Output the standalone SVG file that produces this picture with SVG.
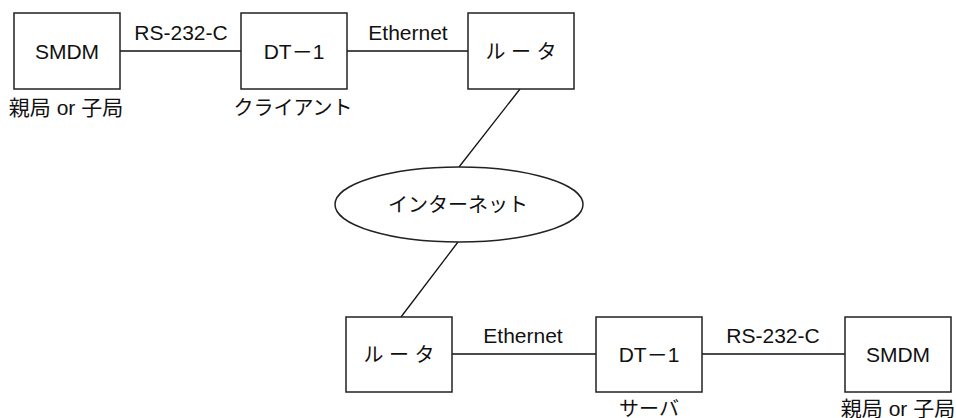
<svg xmlns="http://www.w3.org/2000/svg" width="956" height="418" viewBox="0 0 956 418">
<style>
.box{fill:#fff;stroke:#222;stroke-width:1.5}
.ln{stroke:#111;stroke-width:1.3;fill:none}
text{font-family:"Liberation Sans","Noto Sans CJK JP",sans-serif;font-size:21px;fill:#111;text-anchor:middle}
.jp{font-size:20px}
</style>
<rect width="956" height="418" fill="#fff"/>
<g id="connectors">
<line class="ln" x1="120" y1="51" x2="241" y2="51"/>
<line class="ln" x1="347" y1="51" x2="468" y2="51"/>
<line class="ln" x1="520" y1="89" x2="459" y2="167"/>
<line class="ln" x1="458" y1="242" x2="401" y2="317"/>
<line class="ln" x1="452" y1="354" x2="596" y2="354"/>
<line class="ln" x1="702" y1="354" x2="845" y2="354"/>
<text x="181" y="40">RS-232-C</text>
<text x="408" y="40">Ethernet</text>
<text x="523" y="343">Ethernet</text>
<text x="773" y="343">RS-232-C</text>
</g>
<g id="smdm1">
<rect class="box" x="14" y="13" width="106" height="76"/>
<text x="67" y="59">SMDM</text>
<text x="66" y="115">親局 or 子局</text>
</g>
<g id="dt1a">
<rect class="box" x="241" y="13" width="106" height="76"/>
<text x="294" y="59">DT－1</text>
<text class="jp" x="293" y="115">クライアント</text>
</g>
<g id="router1">
<rect class="box" x="468" y="13" width="106" height="76"/>
<text class="jp" x="521" y="59">ル ー タ</text>
</g>
<g id="internet">
<ellipse class="box" cx="459" cy="204.5" rx="124" ry="37.5"/>
<text class="jp" x="458" y="212">インターネット</text>
</g>
<g id="router2">
<rect class="box" x="346" y="317" width="106" height="75"/>
<text class="jp" x="399" y="362">ル ー タ</text>
</g>
<g id="dt1b">
<rect class="box" x="596" y="317" width="106" height="75"/>
<text x="649" y="362">DT－1</text>
<text class="jp" x="649" y="416">サーバ</text>
</g>
<g id="smdm2">
<rect class="box" x="845" y="317" width="106" height="75"/>
<text x="898" y="362">SMDM</text>
<text x="898" y="416">親局 or 子局</text>
</g>
</svg>
